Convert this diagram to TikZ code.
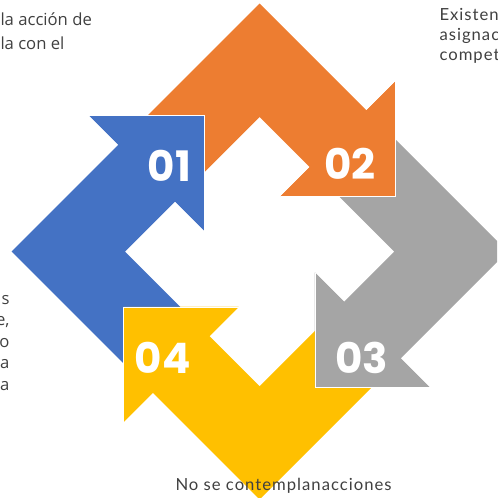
\documentclass[tikz,border=0pt]{standalone}
\usepackage{fontspec}
\setmainfont{Lato}
\newfontfamily\numfont{Poppins}
\newfontfamily\sidefont{Open Sans}

\definecolor{arrblue}{HTML}{4472C4}
\definecolor{arrorange}{HTML}{ED7D31}
\definecolor{arrgray}{HTML}{A5A5A5}
\definecolor{arryellow}{HTML}{FFC000}
\definecolor{txtgray}{HTML}{404040}

\tikzset{every picture/.style={line width=0.75pt}}
\tikzset{
  numtxt/.style={text=white, inner sep=0pt, font=\numfont\bfseries\fontsize{31.5}{31.5}\selectfont},
  bodytxt/.style={text=txtgray, inner sep=0pt, align=left},
  headedge/.style={draw=white, line width=0.6}
}

\begin{document}
\begin{tikzpicture}[x=0.75pt,y=0.75pt,yscale=-1,xscale=1]
\useasboundingbox (0,0) rectangle (497,498);
\clip (0,0) rectangle (497,498);

% Arrow bodies, turned a quarter round the centre each time
\foreach \ang/\col in {0/arrorange,90/arrgray,180/arryellow,270/arrblue}{
  \fill [\col, shift={(259.6,251.6)}, rotate=\ang] (-120,-128) -- (0,-248) -- (106.8,-141.2) -- (136,-170.35) -- (136,-55.35) -- (21,-55.35) -- (50.2,-84.5) -- (0,-134.7) -- (-63.35,-71.35) -- cycle;
}
% Arrow heads on top of the next tail
\foreach \ang/\col in {0/arrorange,90/arrgray,180/arryellow,270/arrblue}{
  \fill [\col, shift={(259.6,251.6)}, rotate=\ang] (136,-170.35) -- (136,-55.35) -- (21,-55.35) -- cycle;
  \draw [headedge, shift={(259.6,251.6)}, rotate=\ang] (136,-170.35) -- (136,-55.35) -- (21,-55.35);
}

% Numbers
\node [numtxt] (n01) at (169.5,166.3) {01};
\node [numtxt] (n02) at (349.7,164.3) {02};
\node [numtxt] (n03) at (361.7,357.5) {03};
\node [numtxt] (n04) at (162.8,358) {04};

% Text Nodes (base = last line)
\node [bodytxt, anchor=base west, font=\sidefont\fontsize{12.5}{18}\selectfont] (txtA) at (0,50) {la acción de\\la con el};
\node [bodytxt, anchor=base west, font=\addfontfeatures{LetterSpace=6}\fontsize{12.5}{15}\selectfont] (txtB) at (439,61) {Existen\\asignac\\compet};
\node [bodytxt, anchor=base east, align=right, font=\sidefont\fontsize{12.5}{16.1}\selectfont] (txtC) at (10,390) {s\\e,\\o\\a\\a};
\node [bodytxt, anchor=base west, font=\addfontfeatures{LetterSpace=6}\fontsize{12.5}{14}\selectfont] (txtD) at (175,490) {No se contemplanacciones};

\end{tikzpicture}
\end{document}
